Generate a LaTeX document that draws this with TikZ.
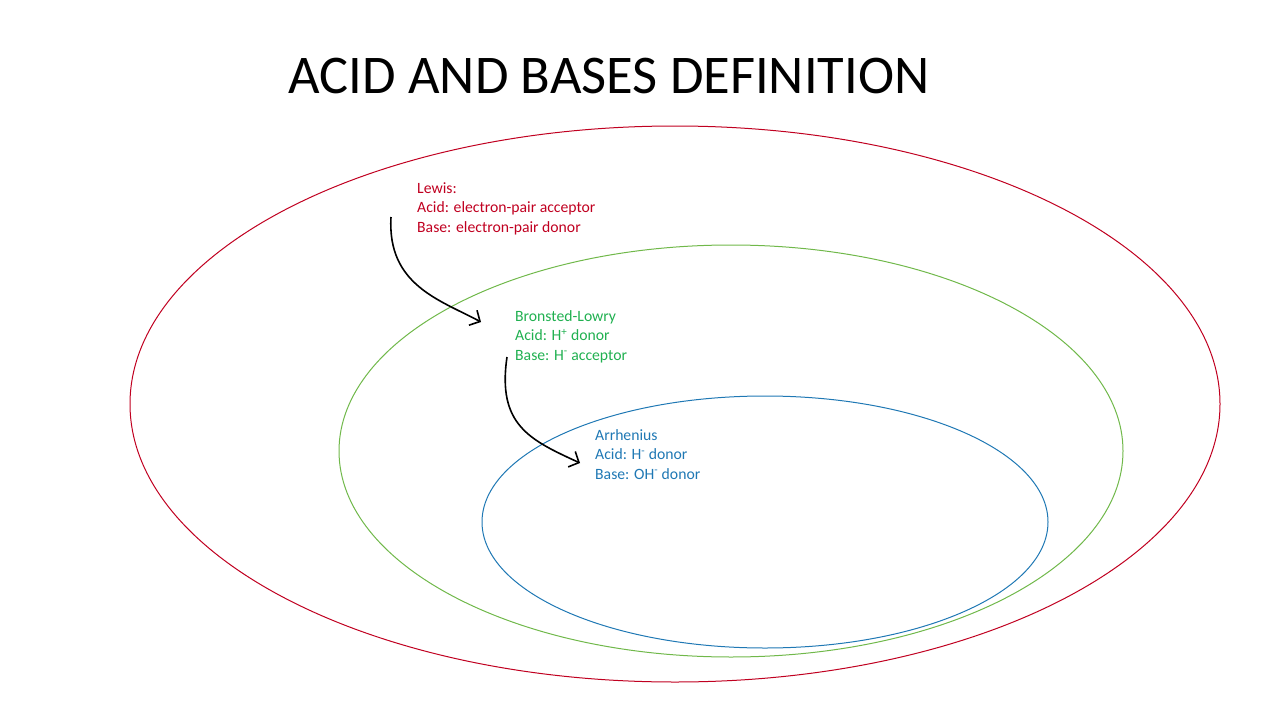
\documentclass[tikz,border=0pt]{standalone}
\usepackage{fontspec}
\setmainfont{Carlito}
\usetikzlibrary{arrows.meta}
\definecolor{lred}{HTML}{C00020}
\definecolor{lgreen}{HTML}{70B84A}
\definecolor{tgreen}{HTML}{20B050}
\definecolor{lblue}{HTML}{1F78B4}
\begin{document}
\begin{tikzpicture}[x=1pt,y=-1pt,
  lbl/.style={anchor=north west,align=left,inner sep=0pt,font=\fontsize{15.7}{19.5}\selectfont},
  conn/.style={line width=1.6pt,-{Straight Barb[length=8pt,width=17pt,line width=1.6pt]}}]
\useasboundingbox (0,0) rectangle (1280,720);
\node[font=\fontsize{54.5}{60}\selectfont,anchor=base] (title) at (609,93) {ACID AND BASES DEFINITION};
\draw[lred,line width=1pt] (675,404) ellipse [x radius=545,y radius=278];
\draw[lgreen,line width=1pt] (731,451) ellipse [x radius=392,y radius=206];
\draw[lblue,line width=1pt] (765,522) ellipse [x radius=283,y radius=126];
\node[lbl,text=lred] (lewis) at (417,182) {Lewis:\\Acid: electron-pair acceptor\\Base: electron-pair donor};
\node[lbl,text=tgreen] (bl) at (515,310) {Bronsted-Lowry\\Acid: H\textsuperscript{+} donor\\Base: H\textsuperscript{-} acceptor};
\node[lbl,text=lblue] (arr) at (595,429) {Arrhenius\\Acid: H\textsuperscript{-} donor\\Base: OH\textsuperscript{-} donor};
\coordinate (s1) at (391,217);
\coordinate (e1) at (481,322);
\coordinate (s2) at (507,357);
\coordinate (e2) at (580,463);
\draw[conn] (s1) .. controls (387,285) and (440,300) .. (e1);
\draw[conn] (s2) .. controls (497,425) and (530,440) .. (e2);
\end{tikzpicture}
\end{document}
